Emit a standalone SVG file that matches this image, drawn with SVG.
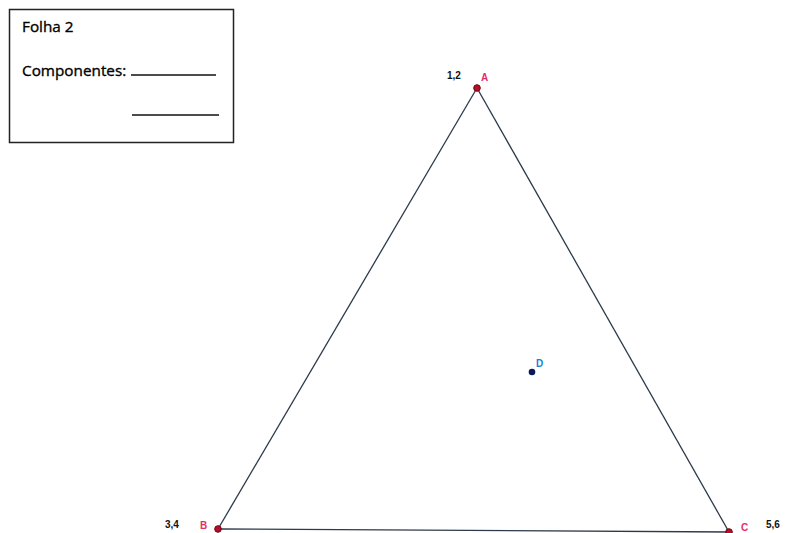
<svg xmlns="http://www.w3.org/2000/svg" width="802" height="533" viewBox="0 0 802 533">
<style>
.hdr{font-family:"Open Sans","Liberation Sans",sans-serif;font-size:15.3px;fill:#000;stroke:#000;stroke-width:0.35}
.num{font-family:"Liberation Sans",Arial,sans-serif;font-size:10px;font-weight:bold;fill:#111}
.pl{font-family:"Liberation Sans",Arial,sans-serif;font-size:10px;font-weight:bold;fill:#e0306a}
.edge{stroke:#2c3a4c;stroke-width:1.3;fill:none}
.pt{fill:#b0102a;stroke:#7a0010;stroke-width:1}
</style>
<rect width="802" height="533" fill="#fff"/>
<g id="infobox">
<rect x="9.5" y="9.5" width="224" height="133" fill="#fff" stroke="#222" stroke-width="1.5"/>
<text class="hdr" x="22" y="32">Folha 2</text>
<text class="hdr" x="22" y="76">Componentes:</text>
<line x1="131" y1="75" x2="216" y2="75" stroke="#111" stroke-width="1.3"/>
<line x1="132" y1="115" x2="219" y2="115" stroke="#111" stroke-width="1.3"/>
</g>
<g id="connectors">
<line class="edge" x1="477" y1="88" x2="218" y2="529"/>
<line class="edge" x1="477" y1="88" x2="729" y2="532"/>
<line class="edge" x1="218" y1="529" x2="729" y2="532"/>
</g>
<g id="A">
<circle class="pt" cx="477" cy="88" r="3.3"/>
<text class="pl" x="481" y="81">A</text>
<text class="num" x="447" y="79">1,2</text>
</g>
<g id="B">
<circle class="pt" cx="218" cy="529" r="3.3"/>
<text class="pl" x="200" y="529">B</text>
<text class="num" x="165" y="528">3,4</text>
</g>
<g id="C">
<circle class="pt" cx="729" cy="532" r="3.3"/>
<text class="pl" x="741" y="531">C</text>
<text class="num" x="766" y="528">5,6</text>
</g>
<g id="D">
<circle cx="532" cy="372" r="3.3" fill="#0a1a5a"/>
<text x="536" y="367" font-family="Liberation Sans,Arial,sans-serif" font-size="10" font-weight="bold" fill="#1a80d0">D</text>
</g>
</svg>
